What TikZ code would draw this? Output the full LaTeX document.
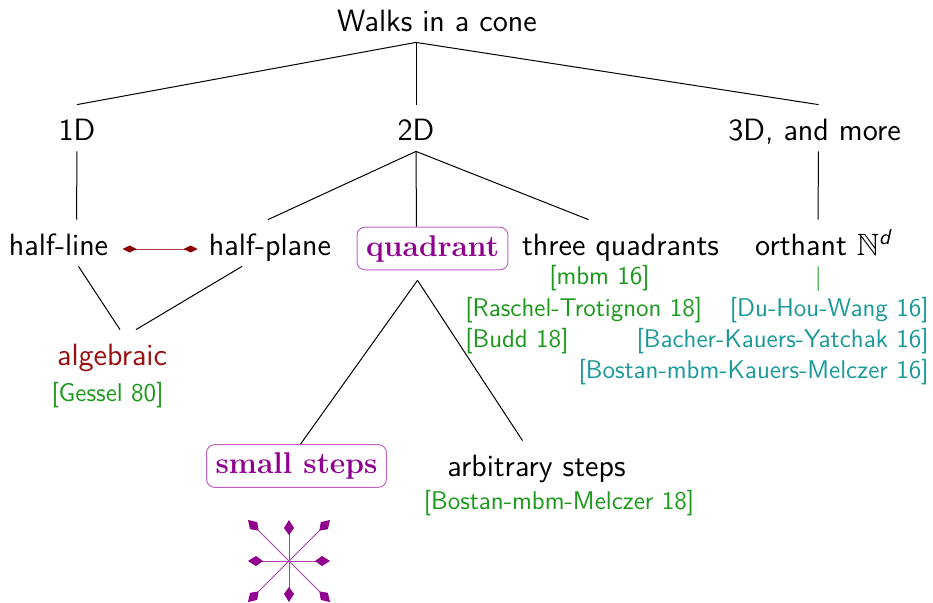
\documentclass[tikz,border=0pt]{standalone}
\usepackage{amsmath,amssymb}
\usepackage{tikz}
\usetikzlibrary{arrows.meta, positioning}
\usepackage{xcolor}
\definecolor{mviolet}{HTML}{900090}
\definecolor{mviolight}{HTML}{C262C2}
\definecolor{malg}{HTML}{9A0F0F}
\definecolor{mdark}{HTML}{8B0000}
\definecolor{mgreen}{HTML}{1A991A}
\definecolor{mteal}{HTML}{1A9999}
\tikzset{
  lbl/.style={inner sep=0pt, text height=17.5pt, text depth=5.5pt},
  qbox/.style={draw=mviolight, text=mviolet, rounded corners=4pt, line width=0.5pt,
               inner xsep=4.5pt, inner ysep=4pt,
               font=\rmfamily\bfseries\fontsize{15}{18}\selectfont},
  gref/.style={mgreen, inner sep=0pt, text height=9.5pt, text depth=3pt,
               font=\sffamily\fontsize{12.8}{15}\selectfont},
  tref/.style={gref, mteal},
  edge/.style={line width=0.5pt, black},
  relarr/.style={{Kite[length=7pt,width=3.5pt,inset=3.5pt,color=mdark]}-{Kite[length=7pt,width=3.5pt,inset=3.5pt,color=mdark]},
                 line width=0.5pt, draw=mdark!75},
  steparr/.style={-{Kite[length=7.5pt,width=5pt,inset=3.5pt,color=mviolet]}, line width=0.5pt,
                  draw=mviolet!75},
}

\begin{document}
\begin{tikzpicture}[x=0.5pt, y=-0.5pt, font=\sffamily\fontsize{15.4}{18}\selectfont]
  \useasboundingbox (0,0) rectangle (933,602);

  %% ── levels ──
  \node[lbl, anchor=base] (top) at (437,31) {Walks in a cone};
  \node[lbl, anchor=base] (d1) at (77,140) {1D};
  \node[lbl, anchor=base] (d2) at (416,140) {2D};
  \node[lbl, anchor=base] (d3) at (814.5,140) {3D, and more};

  \node[lbl, anchor=base] (hl) at (58.5,255) {half-line};
  \node[lbl, anchor=base] (hp) at (270,255) {half-plane};
  \node[qbox] (quad) at (432.5,248.5) {quadrant};
  \node[lbl, anchor=base] (tq) at (620.5,255) {three quadrants};
  \node[lbl, anchor=base] (orth) at (824,255) {orthant $\mathbb{N}^{\textsf{\textit{d}}}$};

  \node[lbl, anchor=base, malg] (alg) at (112,365) {algebraic};
  \node[qbox] (ss) at (296.5,466) {small steps};
  \node[lbl, anchor=base] (arb) at (536.5,476) {arbitrary steps};

  %% ── references ──
  \node[gref, anchor=base] (gessel) at (107.5,401) {[Gessel 80]};
  \node[gref, anchor=base] (mbm) at (599.5,284) {[mbm 16]};
  \node[gref, anchor=base west] (rt) at (465,316) {[Raschel-Trotignon 18]};
  \node[gref, anchor=base west] (budd) at (465,347) {[Budd 18]};
  \node[tref, anchor=base east] (dhw) at (929,316) {[Du-Hou-Wang 16]};
  \node[tref, anchor=base east] (bky) at (929,347) {[Bacher-Kauers-Yatchak 16]};
  \node[tref, anchor=base east] (bmkm) at (929,378) {[Bostan-mbm-Kauers-Melczer 16]};
  \node[gref, anchor=base] (bmm) at (559,509) {[Bostan-mbm-Melczer 18]};

  %% ── tree edges ──
  \draw[edge] ([xshift=-10.5pt]top.south) -- (d1.north);
  \draw[edge] ([xshift=-10.5pt]top.south) -- (d2.north);
  \draw[edge] ([xshift=-10.5pt]top.south) -- ([xshift=2pt]d3.north);
  \draw[edge] (d1.south) -- ([xshift=9pt]hl.north);
  \draw[edge] (d2.south) -- ([xshift=-1pt]hp.north);
  \draw[edge] (d2.south) -- ([xshift=-8pt]quad.north);
  \draw[edge] (d2.south) -- ([xshift=-16pt]tq.north);
  \draw[edge] ([xshift=2pt]d3.south) -- ([xshift=-3pt]orth.north);
  \draw[edge] ([xshift=10pt]hl.south) -- ([xshift=4pt]alg.north);
  \draw[edge] ([xshift=-14pt]hp.south) -- ([xshift=12pt]alg.north);
  \draw[edge] ([xshift=-7.5pt,yshift=-5pt]quad.south) -- ([xshift=2pt]ss.north);
  \draw[edge] ([xshift=-7.5pt,yshift=-5pt]quad.south) -- ([xshift=-7pt]arb.north);
  \draw[mgreen, line width=0.5pt] ([xshift=-3pt]orth.south) -- ([xshift=-5.5pt,yshift=3pt]dhw.north);

  %% ── half-line <-> half-plane ──
  \draw[relarr] ([xshift=7pt,yshift=-3pt]hl.east) -- ([xshift=-5.5pt,yshift=-3pt]hp.west);

  %% ── small steps ──
  \coordinate (star) at (289,561);
  \foreach \dx/\dy in {1/0,1/1,0/1,-1/1,-1/0,-1/-1,0/-1,1/-1}
    \draw[steparr] (star) -- ++(41*\dx,41*\dy);
\end{tikzpicture}
\end{document}
